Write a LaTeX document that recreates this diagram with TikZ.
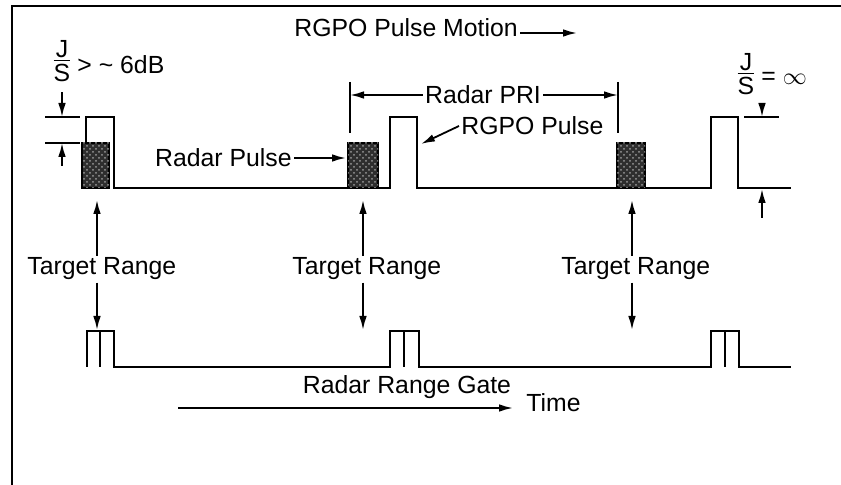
\documentclass[tikz,border=0pt]{standalone}
\usepackage{fontspec}
\setmainfont{Liberation Sans}
\usetikzlibrary{arrows.meta,positioning,patterns}

\begin{document}
\begin{tikzpicture}[x=0.5pt, y=-0.5pt,
    frame/.style={line width=1.4pt},
    sig/.style={line width=1.2pt, line join=miter},
    radar/.style={draw, line width=0.9pt, fill=black!82, postaction={pattern=crosshatch dots, pattern color=black!40}},
    arrow/.style={-{Latex[length=7pt,width=3.8pt]}, line width=0.9pt},
    lbl/.style={inner sep=1pt, font=\fontsize{12.4}{14}\selectfont}
  ]
    \useasboundingbox (0,0) rectangle (841,485);
    \draw[frame] (12,485) -- (12,6) -- (841,6);

    % radar pulses and RGPO pulses
    \draw[radar] (82,143) rectangle (109,188);
    \draw[radar] (348,143) rectangle (378,188);
    \draw[radar] (617,143) rectangle (645,188);
    \draw[sig] (86,143) -- (86,117) -- (114,117) -- (114,188) -- (348,188);
    \draw[sig] (378,188) -- (390,188) -- (390,117) -- (417,117) -- (417,188) -- (617,188);
    \draw[sig] (645,188) -- (711,188) -- (711,117) -- (738,117) -- (738,188) -- (791,188);

    % range gate
    \draw[sig] (87,367) -- (87,331) -- (114,331) -- (114,367) -- (390,367) -- (390,331) -- (419,331) -- (419,367)
      -- (711,367) -- (711,331) -- (739,331) -- (739,367) -- (791,367);
    \draw[sig] (100,331) -- (100,367) (404,331) -- (404,367) (725,331) -- (725,367);

    % level marks
    \draw[sig] (45,117) -- (80,117) (45,143) -- (80,143);
    \draw[sig] (744,117) -- (779,117);
    \draw[sig] (350,82) -- (350,133) (618,82) -- (618,133);

    \coordinate (jsldn) at (62,117);
    \coordinate (jslup) at (62,143);
    \coordinate (jslfoot) at (62,166);
    \coordinate (jsrdn) at (762,117);
    \coordinate (jsrup) at (762,189);
    \coordinate (jsrfoot) at (762,218);
    \coordinate (priL) at (350,95);
    \coordinate (priR) at (618,95);
    \coordinate (rgpotip) at (421,144);
    \coordinate (rptip) at (346,158);
    \coordinate (motionend) at (577,33);
    \coordinate (tr1top) at (97,200);
    \coordinate (tr1bot) at (97,330);
    \coordinate (tr2top) at (363,200);
    \coordinate (tr2bot) at (363,330);
    \coordinate (tr3top) at (632,200);
    \coordinate (tr3bot) at (632,330);
    \coordinate (tstart) at (178,408);
    \coordinate (tend) at (513,408);

    % labels
    \node[lbl] (jsl) at (62,65) {$\frac{\mbox{J}}{\mbox{\strut S}}$};
    \node[lbl, right=0pt of jsl] (jslval) {> \textasciitilde\ 6dB};
    \node[lbl] (jsr) at (746,78) {$\frac{\mbox{J}}{\mbox{\strut S}}$};
    \node[lbl, right=0pt of jsr] (jsrval) {= $\infty$};
    \node[lbl, anchor=west] (motion) at (292,28) {RGPO Pulse Motion};
    \node[lbl] (pri) at (483,95) {Radar PRI};
    \node[lbl, anchor=west] (rgpo) at (459,126) {RGPO Pulse};
    \node[lbl, anchor=east] (rpulse) at (294,158) {Radar Pulse};
    \node[lbl, anchor=base west] (tr1) at (25,275) {Target Range};
    \node[lbl, anchor=base west] (tr2) at (290,275) {Target Range};
    \node[lbl, anchor=base west] (tr3) at (559,275) {Target Range};
    \node[lbl, anchor=base] (gate) at (407,394) {Radar Range Gate};
    \node[lbl, anchor=west] (time) at (524,403) {Time};

    % arrows
    \draw[arrow] (jsl.south) -- (jsldn);
    \draw[arrow] (jslfoot) -- (jslup);
    \draw[arrow] (jsr.south -| jsrdn) -- (jsrdn);
    \draw[arrow] (jsrfoot) -- (jsrup);
    \draw[arrow] ([yshift=-2.5pt]motion.east) -- (motionend);
    \draw[arrow] (pri.west) -- (priL);
    \draw[arrow] (pri.east) -- (priR);
    \draw[arrow] (rgpo.west) -- (rgpotip);
    \draw[arrow] (rpulse.east) -- (rptip);
    \draw[arrow] (tr1.north -| tr1top) -- (tr1top);
    \draw[arrow] (tr1.south -| tr1bot) -- (tr1bot);
    \draw[arrow] (tr2.north -| tr2top) -- (tr2top);
    \draw[arrow] (tr2.south -| tr2bot) -- (tr2bot);
    \draw[arrow] (tr3.north -| tr3top) -- (tr3top);
    \draw[arrow] (tr3.south -| tr3bot) -- (tr3bot);
    \draw[arrow] (tstart) -- (tend);
\end{tikzpicture}
\end{document}
